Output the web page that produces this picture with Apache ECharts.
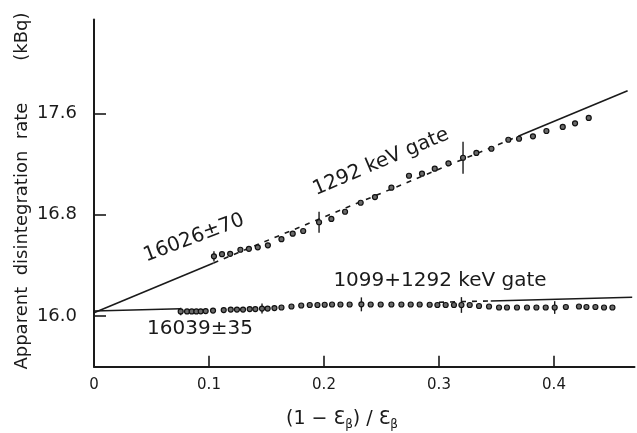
<!DOCTYPE html>
<html>
<head>
<meta charset="utf-8">
<script src="https://cdn.jsdelivr.net/npm/echarts/dist/echarts.min.js"></script>
<style>
  html, body { margin: 0; padding: 0; background: #fff; }
  #chart { width: 637px; height: 433px; }
</style>
</head>
<body>
<div id="chart"></div>
<script>
// 1292 keV gate measurements
const upperX = [0.1043, 0.1113, 0.1184, 0.1273, 0.1347, 0.1424, 0.1512, 0.1630, 0.1728, 0.1819,
                0.1957, 0.2064, 0.2183, 0.2319, 0.2443, 0.2586, 0.2739, 0.2852, 0.2963, 0.3082,
                0.3209, 0.3325, 0.3456, 0.3603, 0.3696, 0.3817, 0.3934, 0.4076, 0.4183, 0.4302];
const upperY = [16.471, 16.488, 16.491, 16.523, 16.530, 16.542, 16.558, 16.606, 16.650, 16.671,
                16.740, 16.766, 16.823, 16.894, 16.939, 17.013, 17.107, 17.123, 17.163, 17.205,
                17.249, 17.287, 17.320, 17.391, 17.399, 17.418, 17.460, 17.492, 17.521, 17.563];

// 1099+1292 keV gate measurements
const lowerX = [0.0754, 0.0809, 0.0850, 0.0890, 0.0928, 0.0971, 0.1035, 0.1128, 0.1189, 0.1243,
                0.1296, 0.1354, 0.1403, 0.1461, 0.1510, 0.1569, 0.1630, 0.1717, 0.1802, 0.1876,
                0.1943, 0.2006, 0.2070, 0.2143, 0.2223, 0.2325, 0.2406, 0.2493, 0.2586, 0.2673,
                0.2754, 0.2832, 0.2919, 0.2986, 0.3058, 0.3130, 0.3195, 0.3267, 0.3348, 0.3435,
                0.3522, 0.3591, 0.3678, 0.3765, 0.3847, 0.3928, 0.4006, 0.4103, 0.4217, 0.4282,
                0.4360, 0.4435, 0.4508];
const lowerY = [16.036, 16.036, 16.036, 16.036, 16.037, 16.039, 16.043, 16.047, 16.051, 16.051,
                16.051, 16.055, 16.055, 16.059, 16.059, 16.063, 16.067, 16.075, 16.083, 16.087,
                16.087, 16.089, 16.091, 16.091, 16.091, 16.092, 16.091, 16.091, 16.091, 16.091,
                16.091, 16.091, 16.089, 16.087, 16.087, 16.087, 16.087, 16.087, 16.079, 16.075,
                16.067, 16.067, 16.067, 16.067, 16.067, 16.067, 16.067, 16.071, 16.075, 16.071,
                16.071, 16.067, 16.067];

// representative error bars (x, value, half-width)
const upperErrX = [0.1043, 0.1957, 0.3209];
const upperErrY = [16.471, 16.740, 17.249];
const upperErr  = [0.040, 0.083, 0.126];
const lowerErrX = [0.0754, 0.1461, 0.2325, 0.3195, 0.4006];
const lowerErrY = [16.036, 16.059, 16.092, 16.087, 16.067];
const lowerErr  = [0.030, 0.040, 0.055, 0.062, 0.050];

// linear fits, extrapolated to zero: intercepts 16026 and 16039 Bq
const upperFitX = [0, 0.104, 0.373, 0.464];
const upperFitY = [16.026, 16.419, 17.434, 17.778];
const lowerFitX = [0, 0.0754, 0.300, 0.345, 0.468];
const lowerFitY = [16.039, 16.057, 16.109, 16.119, 16.148];

// axis ticks
const xTickValues = [0.1, 0.2, 0.3, 0.4];
const xLabelValues = [0, 0.1, 0.2, 0.3, 0.4];
const yTickValues = [16.0, 16.8, 17.6];

const INK = '#1a1a1a';
const FONT = 'DejaVu Sans';

const zip = (xs, ys) => xs.map((x, i) => [x, ys[i]]);
const zip3 = (xs, ys, es) => xs.map((x, i) => [x, ys[i], es[i]]);
const seg = (xs, ys, a, b) => zip(xs.slice(a, b + 1), ys.slice(a, b + 1));

function lineSeries(data, dashed) {
  return {
    type: 'line', data, showSymbol: false, silent: true, z: 1,
    lineStyle: { color: INK, width: 1.6, type: dashed ? [5, 6] : 'solid' }
  };
}
function dotSeries(data) {
  return {
    type: 'scatter', data, symbol: 'circle', symbolSize: 5, z: 3,
    itemStyle: { color: '#6a6a6a', borderColor: '#111', borderWidth: 1.2, opacity: 1 }
  };
}
function errSeries(data) {
  return {
    type: 'custom', data, z: 2, encode: { x: 0, y: 1 },
    renderItem: function (params, api) {
      const x = api.value(0), y = api.value(1), e = api.value(2);
      const p1 = api.coord([x, y + e]);
      const p2 = api.coord([x, y - e]);
      return {
        type: 'line',
        shape: { x1: p1[0], y1: p1[1], x2: p2[0], y2: p2[1] },
        style: { stroke: INK, lineWidth: 1.4 }
      };
    }
  };
}

const chart = echarts.init(document.getElementById('chart'), null, { renderer: 'canvas' });

chart.setOption({
  animation: false,
  backgroundColor: '#fff',
  grid: { left: 94, top: 19.5, width: 540.5, height: 347.2 },
  xAxis: {
    type: 'value', min: 0, max: 0.47,
    axisLine: { show: true, onZero: false, lineStyle: { color: INK, width: 2 } },
    axisTick: { show: true, inside: true, length: 11, customValues: xTickValues,
                lineStyle: { color: INK, width: 1.6 } },
    axisLabel: { show: true, customValues: xLabelValues, margin: 11,
                 fontFamily: FONT, fontSize: 15, color: INK,
                 formatter: v => (v === 0 ? '0' : v.toFixed(1)) },
    splitLine: { show: false }
  },
  yAxis: {
    type: 'value', min: 15.6, max: 18.34,
    axisLine: { show: true, onZero: false, lineStyle: { color: INK, width: 2 } },
    axisTick: { show: true, inside: true, length: 12, customValues: yTickValues,
                lineStyle: { color: INK, width: 1.6 } },
    axisLabel: { show: true, customValues: yTickValues, margin: 17,
                 fontFamily: FONT, fontSize: 18, color: INK,
                 formatter: v => v.toFixed(1) },
    splitLine: { show: false }
  },
  series: [
    lineSeries(seg(upperFitX, upperFitY, 0, 1), false),
    lineSeries(seg(upperFitX, upperFitY, 1, 2), true),
    lineSeries(seg(upperFitX, upperFitY, 2, 3), false),
    lineSeries(seg(lowerFitX, lowerFitY, 0, 1), false),
    lineSeries(seg(lowerFitX, lowerFitY, 2, 3), true),
    lineSeries(seg(lowerFitX, lowerFitY, 3, 4), false),
    errSeries(zip3(upperErrX, upperErrY, upperErr)),
    errSeries(zip3(lowerErrX, lowerErrY, lowerErr)),
    dotSeries(zip(upperX, upperY)),
    dotSeries(zip(lowerX, lowerY))
  ],
  graphic: [
    {
      type: 'text', x: 22, y: 191, rotation: Math.PI / 2, silent: true,
      style: {
        text: '{t|Apparent  disintegration  rate}{g| }{t|(kBq)}',
        align: 'center', verticalAlign: 'middle', fill: INK,
        rich: {
          t: { fontFamily: FONT, fontSize: 18, fill: INK },
          g: { width: 42, fontSize: 18 }
        }
      }
    },
    {
      type: 'text', x: 342, y: 419, silent: true,
      style: {
        text: '{m|(1 − }{e|Ɛ}{s|β}{m|) / }{e|Ɛ}{s|β}',
        align: 'center', verticalAlign: 'middle', fill: INK,
        rich: {
          m: { fontFamily: FONT, fontSize: 19, fill: INK, lineHeight: 24, verticalAlign: 'middle' },
          e: { fontFamily: FONT, fontSize: 19, fill: INK, lineHeight: 24, verticalAlign: 'middle' },
          s: { fontFamily: FONT, fontSize: 12, fill: INK, lineHeight: 12, verticalAlign: 'bottom' }
        }
      }
    },
    {
      type: 'text', x: 194, y: 238, rotation: 20.5 * Math.PI / 180, silent: true,
      style: { text: '16026±70', fontFamily: FONT, fontSize: 20, fill: INK,
               align: 'center', verticalAlign: 'middle' }
    },
    {
      type: 'text', x: 381, y: 162, rotation: 23 * Math.PI / 180, silent: true,
      style: { text: '1292 keV gate', fontFamily: FONT, fontSize: 20, fill: INK,
               align: 'center', verticalAlign: 'middle' }
    },
    {
      type: 'text', x: 440, y: 281, silent: true,
      style: { text: '1099+1292 keV gate', fontFamily: FONT, fontSize: 20, fill: INK,
               align: 'center', verticalAlign: 'middle' }
    },
    {
      type: 'text', x: 200, y: 329, silent: true,
      style: { text: '16039±35', fontFamily: FONT, fontSize: 20, fill: INK,
               align: 'center', verticalAlign: 'middle' }
    }
  ]
});
</script>
</body>
</html>
